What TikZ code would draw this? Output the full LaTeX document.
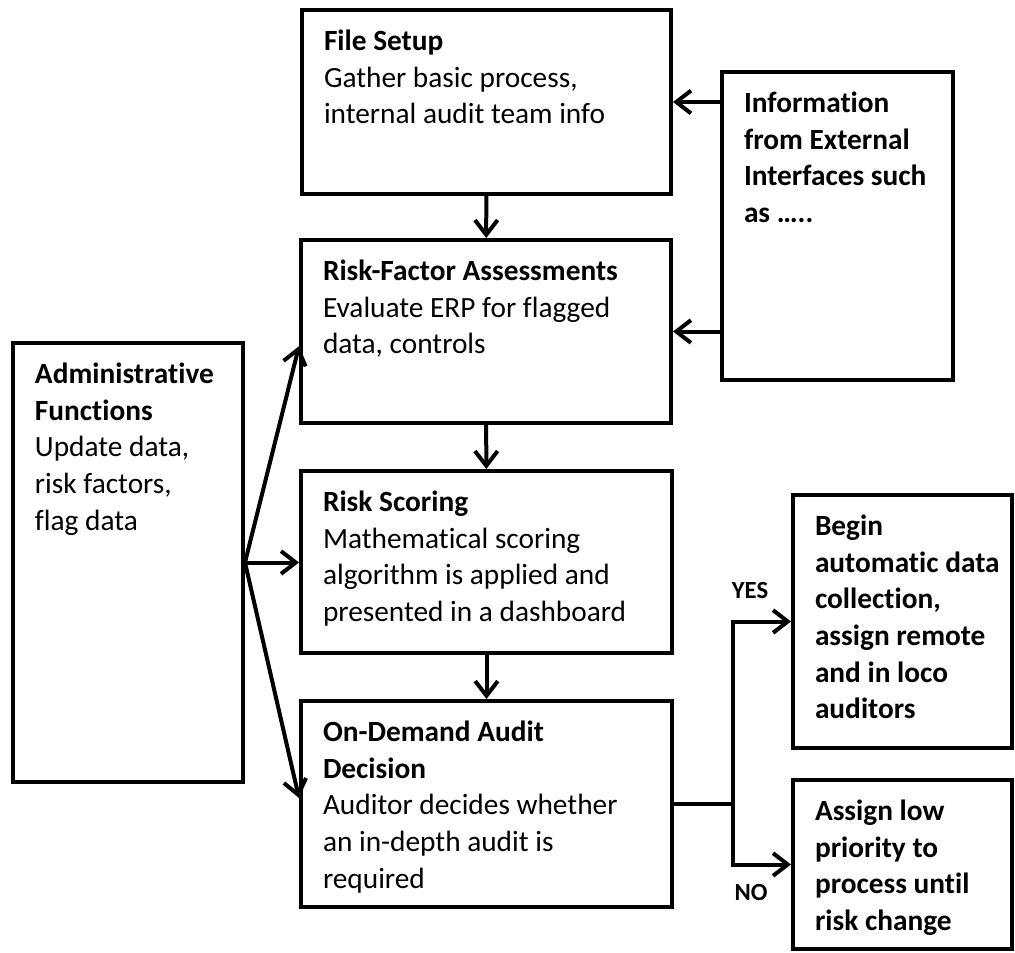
\documentclass[tikz,border=0pt]{standalone}
\usepackage{fontspec}
\setmainfont{Carlito}[Ligatures=NoCommon]
\usepackage{tikz}
\usetikzlibrary{calc,arrows.meta}
\definecolor{ink}{HTML}{000000}
\newlength{\unitpx}
\setlength{\unitpx}{0.75pt}
\newcommand{\boxbody}[3]{\parbox[c][#2\unitpx][t]{#1\unitpx}{\raggedright\leftskip=16.5pt\vspace*{11.5pt}\strut#3}}
\tikzset{
  box/.style={draw=ink, line width=3pt, inner sep=0pt, font=\fontsize{22}{27.4}\selectfont},
  arr/.style={draw=ink, line width=3pt, -{Straight Barb[length=11pt,width=17pt]}},
  link/.style={draw=ink, line width=3pt},
  lab/.style={text=ink, inner sep=0pt, font=\fontsize{18.5}{20}\selectfont\bfseries},
}

\begin{document}
\begin{tikzpicture}[x=0.75pt,y=-0.75pt]
  \useasboundingbox (0,0) rectangle (1015,953);

  \node[box] (setup)  at (486.5,102) {\boxbody{369}{184}{\textbf{File Setup}\\Gather basic process,\\internal audit team info}};
  \node[box] (risk)   at (486,331.5) {\boxbody{370}{183}{\textbf{Risk-Factor Assessments}\\Evaluate ERP for flagged\\data, controls}};
  \node[box] (score)  at (486.5,562) {\boxbody{371}{182}{\textbf{Risk Scoring}\\Mathematical scoring\\algorithm is applied and\\presented in a dashboard}};
  \node[box] (decide) at (486.5,804) {\boxbody{371}{206}{\textbf{On-Demand Audit}\\\textbf{Decision}\\Auditor decides whether\\an in-depth audit is\\required}};
  \node[box] (admin)  at (128,562.5) {\boxbody{230}{439}{\textbf{Administrative}\\\textbf{Functions}\\Update data,\\risk factors,\\flag data}};
  \node[box] (info)   at (837.5,226) {\boxbody{231}{308}{\bfseries Information\\from External\\Interfaces such\\as …..}};
  \node[box] (begin)  at (902.5,621.5) {\boxbody{219}{253}{\bfseries Begin\\automatic data\\collection,\\assign remote\\and in loco\\auditors}};
  \node[box] (lowprio) at (902.5,864.5) {\boxbody{219}{169}{\bfseries Assign low\\priority to\\process until\\risk change}};

  \draw[arr] (setup) -- (risk);
  \draw[arr] (risk) -- (score);
  \draw[arr] (score) -- (decide);
  \draw[arr] (info.west |- setup.east) -- (setup.east);
  \draw[arr] (info.west |- risk.east) -- (risk.east);
  \draw[arr] (admin.east) -- ([yshift=-11pt]risk.west);
  \draw[arr] (admin.east) -- (admin.east -| score.west);
  \draw[arr] (admin.east) -- ([yshift=4.5pt]decide.west);

  \coordinate (fork) at (733,804);
  \draw[link] (decide.east) -- (fork);
  \draw[arr] (fork) |- (begin.west);
  \draw[arr] (fork) |- (lowprio.west);
  \node[lab] (yes) at (750,590) {YES};
  \node[lab] (no)  at (751,892) {NO};
\end{tikzpicture}
\end{document}
